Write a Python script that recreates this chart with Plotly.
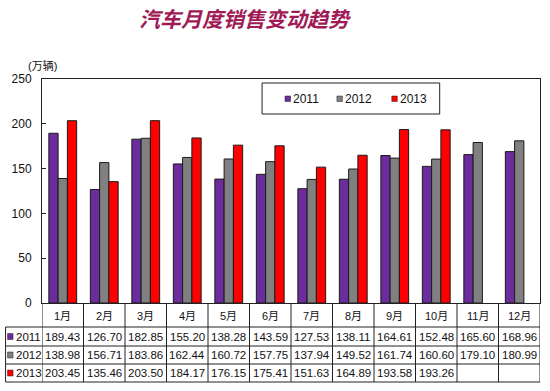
import plotly.graph_objects as go

months = ["1月", "2月", "3月", "4月", "5月", "6月", "7月", "8月", "9月", "10月", "11月", "12月"]
series_names = ["2011", "2012", "2013"]
sales_2011 = [189.43, 126.70, 182.85, 155.20, 138.28, 143.59, 127.53, 138.11, 164.61, 152.48, 165.60, 168.96]
sales_2012 = [138.98, 156.71, 183.86, 162.44, 160.72, 157.75, 137.94, 149.52, 161.74, 160.60, 179.10, 180.99]
sales_2013 = [203.45, 135.46, 203.50, 184.17, 176.15, 175.41, 151.63, 164.89, 193.58, 193.26, None, None]
colors = ["#6B2C9E", "#808080", "#FF0000"]

W, H = 550, 391
L, R, T, B = 41.5, 9.5, 79, 88
pw = W - L - R
ph = H - T - B

def py(p):  # pixel y -> paper y
    return (H - B - p) / ph

def px(p):  # pixel x -> paper x
    return (p - L) / pw

fig = go.Figure()
all_series = [sales_2011, sales_2012, sales_2013]
for name, vals, c in zip(series_names, all_series, colors):
    fig.add_trace(go.Bar(x=months, y=vals, name=name, marker=dict(color=c, line=dict(color="#1a1a1a", width=1)),
                         showlegend=False))

txtfont = "Liberation Sans, Arial, Noto Sans CJK SC, sans-serif"
shapes = []
ann = []

# table geometry (pixels)
row_lines = [327, 346, 364, 382]
row_centers = [316, 336.5, 355, 373]
left_px = 5
line_style = dict(color="#222", width=1)

for i in range(len(months) + 1):
    shapes.append(dict(type="line", xref="x", yref="paper", x0=i - 0.5, x1=i - 0.5,
                       y0=py(H - B), y1=py(row_lines[-1]), line=line_style))
shapes.append(dict(type="line", xref="paper", yref="paper", x0=px(left_px), x1=px(left_px),
                   y0=py(row_lines[0]), y1=py(row_lines[-1]), line=line_style))
for rl in row_lines:
    shapes.append(dict(type="line", xref="paper", yref="paper", x0=px(left_px), x1=1,
                       y0=py(rl), y1=py(rl), line=line_style))

for m in months:
    ann.append(dict(x=m, xref="x", y=py(row_centers[0]), yref="paper", text=m, showarrow=False,
                    font=dict(family=txtfont, size=11, color="#111"), xanchor="center", yanchor="middle"))
for r, (name, vals, c) in enumerate(zip(series_names, all_series, colors)):
    yc = py(row_centers[r + 1])
    for m, v in zip(months, vals):
        if v is None:
            continue
        ann.append(dict(x=m, xref="x", y=yc, yref="paper", text=f"{v:.2f}", showarrow=False,
                        font=dict(family=txtfont, size=11.5, color="#111"), xanchor="center", yanchor="middle"))
    shapes.append(dict(type="rect", xref="paper", yref="paper", x0=px(7), x1=px(12.5),
                       y0=yc - 3 / ph, y1=yc + 3 / ph, fillcolor=c, line=dict(color="#222", width=0.5)))
    ann.append(dict(x=px(13), xref="paper", y=yc, yref="paper", text=name, showarrow=False,
                    font=dict(family=txtfont, size=11.5, color="#111"), xanchor="left", yanchor="middle"))

# custom legend
shapes.append(dict(type="rect", xref="paper", yref="paper", x0=px(262), x1=px(440), y0=py(114), y1=py(83),
                   fillcolor="white", line=dict(color="#222", width=1), layer="above"))
leg_x = [285, 337, 392]
for name, c, lx in zip(series_names, colors, leg_x):
    shapes.append(dict(type="rect", xref="paper", yref="paper", x0=px(lx), x1=px(lx + 5.5),
                       y0=py(101.5), y1=py(96), fillcolor=c, line=dict(color="#222", width=0.5), layer="above"))
    ann.append(dict(x=px(lx + 6.5), xref="paper", y=py(99), yref="paper", text=name, showarrow=False,
                    font=dict(family=txtfont, size=12, color="#111"), xanchor="left", yanchor="middle"))

ann.append(dict(x=px(25), xref="paper", y=py(65), yref="paper", text="(万辆)", showarrow=False,
                font=dict(family=txtfont, size=11, color="#111"), xanchor="left", yanchor="middle"))
ann.append(dict(x=px(245), xref="paper", y=py(18), yref="paper", text="<b><i>汽车月度销售变动趋势</i></b>",
                showarrow=False, font=dict(family="Noto Sans CJK SC, sans-serif", size=21, color="#A01A55"),
                xanchor="center", yanchor="middle"))

fig.update_layout(
    width=W, height=H,
    margin=dict(l=L, r=R, t=T, b=B, autoexpand=False),
    paper_bgcolor="white", plot_bgcolor="white",
    barmode="group", bargap=0.33, bargroupgap=0,
    shapes=shapes, annotations=ann,
    showlegend=False,
)
fig.update_xaxes(showticklabels=False, ticks="", showline=True, linecolor="#222", linewidth=1, mirror=True,
                 showgrid=False, range=[-0.5, 11.5])
fig.update_yaxes(range=[0, 250], dtick=50, ticks="inside", ticklen=4, tickcolor="#222", showline=True,
                 linecolor="#222", linewidth=1, mirror=True, showgrid=False, zeroline=False,
                 ticklabelstandoff=7,
                 tickfont=dict(family=txtfont, size=12, color="#111"))

fig.write_html("out.html", config={"displayModeBar": False},
               post_script="document.body.style.margin='0';")
